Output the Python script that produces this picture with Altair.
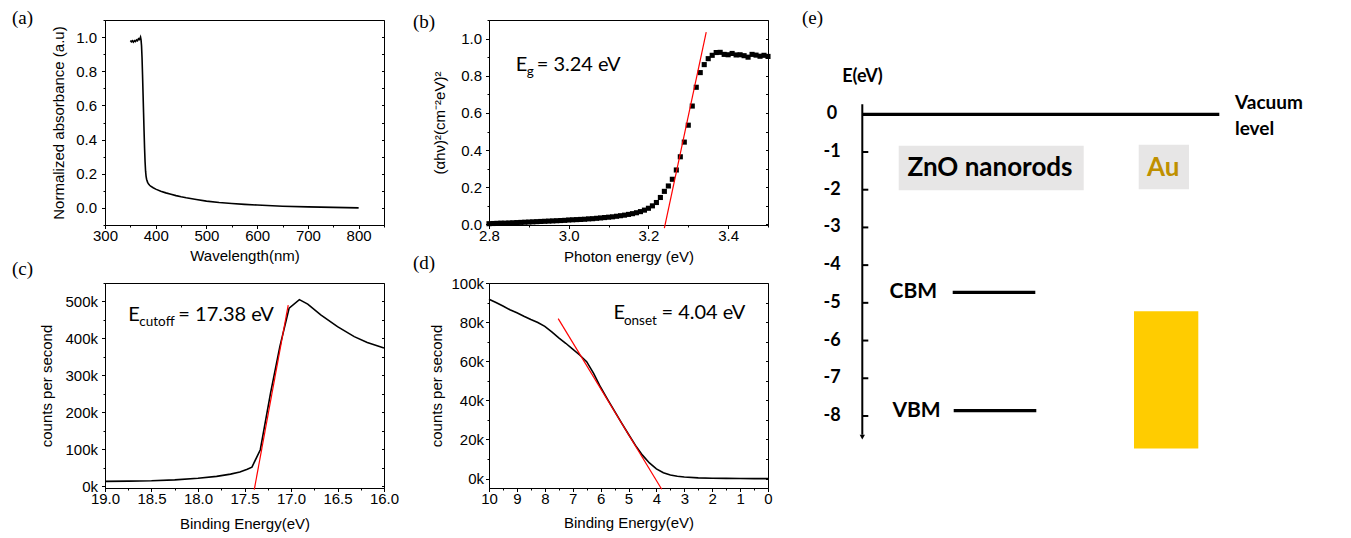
import altair as alt
import pandas as pd

# ---------------- (a) UV-vis absorbance ----------------
wavelength = [350, 352, 354, 356, 358, 360, 362, 364, 366, 368, 370, 371, 372, 373, 374,
              375, 376, 377, 378, 379, 380, 381, 382, 384, 386, 388, 390, 395, 400, 410,
              420, 430, 440, 450, 460, 480, 500, 525, 550, 575, 600, 650, 700, 750, 800]
absorbance = [0.980, 0.972, 0.978, 0.970, 0.979, 0.974, 0.983, 0.978, 0.990, 0.986, 1.000, 0.985, 0.950, 0.880, 0.780,
              0.670, 0.560, 0.450, 0.350, 0.270, 0.215, 0.185, 0.168, 0.150, 0.140, 0.133, 0.127, 0.118, 0.110, 0.098,
              0.088, 0.080, 0.072, 0.065, 0.059, 0.049, 0.040, 0.032, 0.026, 0.021, 0.017, 0.010, 0.006, 0.003, 0.000]

# ---------------- (b) Tauc plot ----------------
photon_energy = [2.80, 2.81, 2.82, 2.83, 2.84, 2.85, 2.86, 2.87, 2.88, 2.89,
                 2.90, 2.91, 2.92, 2.93, 2.94, 2.95, 2.96, 2.97, 2.98, 2.99,
                 3.00, 3.01, 3.02, 3.03, 3.04, 3.05, 3.06, 3.07, 3.08, 3.09,
                 3.10, 3.11, 3.12, 3.13, 3.14, 3.15, 3.16, 3.17, 3.18, 3.19,
                 3.20, 3.21, 3.22, 3.23, 3.24, 3.25, 3.26, 3.27, 3.28, 3.29,
                 3.30, 3.31, 3.32, 3.33, 3.34, 3.35, 3.36, 3.37, 3.38, 3.39,
                 3.40, 3.41, 3.42, 3.43, 3.44, 3.45, 3.46, 3.47, 3.48, 3.49, 3.50]
tauc = [0.004, 0.005, 0.006, 0.007, 0.007, 0.008, 0.009, 0.010, 0.011, 0.012,
        0.013, 0.014, 0.015, 0.016, 0.017, 0.018, 0.019, 0.020, 0.021, 0.022,
        0.024, 0.025, 0.026, 0.027, 0.028, 0.030, 0.031, 0.033, 0.035, 0.037,
        0.039, 0.041, 0.044, 0.047, 0.050, 0.054, 0.058, 0.063, 0.069, 0.077,
        0.087, 0.100, 0.118, 0.145, 0.178, 0.207, 0.243, 0.293, 0.364, 0.443,
        0.534, 0.637, 0.738, 0.817, 0.860, 0.892, 0.910, 0.925, 0.926, 0.915,
        0.913, 0.920, 0.912, 0.913, 0.908, 0.900, 0.915, 0.911, 0.905, 0.910, 0.904]
tauc_fit_x = [3.240, 3.345]
tauc_fit_y = [-0.02, 1.035]

# ---------------- (c) secondary electron cutoff ----------------
cutoff_be = [19.0, 18.75, 18.5, 18.25, 18.0, 17.8, 17.65, 17.55, 17.47, 17.42, 17.33,
             17.22, 17.12, 17.02, 16.91, 16.82, 16.68, 16.5, 16.32, 16.18, 16.0]
cutoff_cps = [13500, 14000, 15000, 17500, 22000, 27000, 33000, 39000, 46000, 52000, 99000,
              252000, 378000, 482000, 505000, 493000, 464000, 432000, 405000, 389000, 374000]
cutoff_fit_be = [17.395, 17.03]
cutoff_fit_cps = [-9000, 490000]

# ---------------- (d) valence band onset ----------------
onset_be = [10, 9.75, 9.5, 9.25, 9.0, 8.75, 8.5, 8.25, 8.0, 7.75, 7.5, 7.25, 7.0, 6.75,
            6.5, 6.25, 6.0, 5.75, 5.5, 5.25, 5.0, 4.75, 4.5, 4.25, 4.0, 3.75, 3.5, 3.25,
            3.0, 2.5, 2.0, 1.5, 1.0, 0.5, 0.0]
onset_cps = [91700, 90000, 88200, 86300, 84800, 83000, 81300, 79800, 77800, 75000, 72000, 69200, 66200, 63200,
             59800, 53800, 46700, 40500, 34500, 28500, 22700, 17000, 12000, 8000, 5000, 3000, 1800, 1200,
             800, 400, 200, 100, 50, 0, 0]
onset_fit_be = [7.52, 3.81]
onset_fit_cps = [81800, -5450]

# ---------------- (e) energy level diagram ----------------
energy_ticks = [0, -1, -2, -3, -4, -5, -6, -7, -8]
vacuum_level = 0.0
zno_cbm = -4.72
zno_vbm = -7.86
au_top = -5.22
au_bottom = -8.86

# ---------------- styles ----------------
AXF = "Liberation Sans"
ANN = "Lato"
SERIF = "Liberation Serif"

# tick values (major + minor)
a_xt = [300, 350, 400, 450, 500, 550, 600, 650, 700, 750, 800, 850]
a_yt = [-0.1, 0.0, 0.1, 0.2, 0.3, 0.4, 0.5, 0.6, 0.7, 0.8, 0.9, 1.0, 1.1]
b_xt = [2.8, 2.9, 3.0, 3.1, 3.2, 3.3, 3.4, 3.5]
b_yt = [0.0, 0.1, 0.2, 0.3, 0.4, 0.5, 0.6, 0.7, 0.8, 0.9, 1.0, 1.1]
c_xt = [16.0, 16.25, 16.5, 16.75, 17.0, 17.25, 17.5, 17.75, 18.0, 18.25, 18.5, 18.75, 19.0]
c_yt = [0, 50000, 100000, 150000, 200000, 250000, 300000, 350000, 400000, 450000, 500000, 550000]
d_xt = [0, 0.5, 1, 1.5, 2, 2.5, 3, 3.5, 4, 4.5, 5, 5.5, 6, 6.5, 7, 7.5, 8, 8.5, 9, 9.5, 10]
d_yt = [0, 10000, 20000, 30000, 40000, 50000, 60000, 70000, 80000, 90000, 100000]

FIFTH = "abs(datum.value*5 - round(datum.value*5)) < 0.001"
HALF = "abs(datum.value*2 - round(datum.value*2)) < 0.001"


def axis(title, values, major, label, pad, lpad):
    return alt.Axis(title=title, values=values, labelExpr=label, labelPadding=lpad,
                    tickSize={"condition": {"test": major, "value": 3.5}, "value": 2},
                    labelOverlap=False, labelFlush=False, grid=False, titlePadding=pad)


def right_ticks_axis(values):
    return alt.Axis(orient="right", offset=-2.5, tickSize=2.5, labels=False, domain=False,
                    title=None, values=values, grid=False)


def ptitle(text, dx, offset, dy):
    return alt.TitleParams(text, anchor="start", frame="group", dx=dx, dy=dy, offset=offset,
                           baseline="middle", font=SERIF, fontSize=19, fontWeight="normal",
                           color="black")


def subtext(df, x, y, parts):
    layers = []
    for txt, size, dx, dy in parts:
        layers.append(alt.Chart(df).mark_text(text=txt, align="left", baseline="alphabetic",
                                              font=ANN, fontSize=size, dx=dx, dy=dy,
                                              color="black").encode(x=x, y=y))
    return layers


def build(main_df, main_mark, x, yscale, yaxis, yvalues, extra):
    y_main = alt.Y("y:Q", scale=yscale, axis=yaxis)
    y_plain = alt.Y("y:Q", scale=yscale, axis=None)
    y_right = alt.Y("y:Q", scale=yscale, axis=right_ticks_axis(yvalues))
    layers = [alt.Chart(main_df).mark_line(strokeOpacity=0).encode(x=x, y=y_right),
              main_mark.encode(x=x, y=y_main)]
    for item in extra(x, y_plain):
        layers.append(item)
    return alt.layer(*layers).resolve_axis(y="independent")


# ---- panel a
ax = alt.X("x:Q", scale=alt.Scale(domain=[300, 850], nice=False, zero=False),
           axis=axis("Wavelength(nm)", a_xt, "datum.value % 100 === 0",
                     "datum.value % 100 === 0 ? format(datum.value, 'd') : ''", 5, 0))
a_ys = alt.Scale(domain=[-0.1, 1.1], nice=False, zero=False)
a_ya = axis("Normalized absorbance (a.u)", a_yt, FIFTH, FIFTH + " ? format(datum.value, '.1f') : ''", 9, 5)
a_df = pd.DataFrame({"x": wavelength, "y": absorbance})
panel_a = build(a_df, alt.Chart(a_df).mark_line(color="black", strokeWidth=1.6), ax, a_ys, a_ya, a_yt,
                lambda x, y: []).properties(width=279, height=205, title=ptitle("(a)", -93, 2, 26.2))

# ---- panel b
bx = alt.X("x:Q", scale=alt.Scale(domain=[2.8, 3.5], nice=False, zero=False),
           axis=axis("Photon energy (eV)", b_xt, FIFTH,
                     FIFTH + " ? format(datum.value, '.1f') : ''", 6, 0))
b_ys = alt.Scale(domain=[-0.003, 1.1], nice=False, zero=False)
b_ya = axis("(αhν)²(cm⁻²eV)²", b_yt, FIFTH, FIFTH + " ? format(datum.value, '.1f') : ''", 13, 4)
b_df = pd.DataFrame({"x": photon_energy, "y": tauc})
b_fit = pd.DataFrame({"x": tauc_fit_x, "y": tauc_fit_y})
b_ann = pd.DataFrame({"x": [2.867], "y": [0.825]})
panel_b = build(
    b_df, alt.Chart(b_df).mark_square(color="black", size=26, opacity=1), bx, b_ys, b_ya, b_yt,
    lambda x, y: [alt.Chart(b_fit).mark_line(color="red", strokeWidth=1.2).encode(x=x, y=y)]
    + subtext(b_ann, x, y, [("E", 20, 0, 0), ("g", 13.5, 11, 5), ("= 3.24 eV", 20, 21, 0)]),
).properties(width=279, height=205, title=ptitle("(b)", -76, 5, 33.2))

# ---- panel c
cx = alt.X("x:Q", scale=alt.Scale(domain=[16.0, 19.0], nice=False, zero=False, reverse=True),
           axis=axis("Binding Energy(eV)", c_xt, HALF,
                     HALF + " ? format(datum.value, '.1f') : ''", 10, 0))
c_ys = alt.Scale(domain=[-4500, 550000], nice=False, zero=False)
c_ya = axis("counts per second", c_yt, "datum.value % 100000 === 0",
            "datum.value % 100000 === 0 ? (datum.value/1000) + 'k' : ''", 10, 4)
c_df = pd.DataFrame({"x": cutoff_be, "y": cutoff_cps})
c_fit = pd.DataFrame({"x": cutoff_fit_be, "y": cutoff_fit_cps})
c_ann = pd.DataFrame({"x": [18.749], "y": [447800]})
panel_c = build(
    c_df, alt.Chart(c_df).mark_line(color="black", strokeWidth=1.6), cx, c_ys, c_ya, c_yt,
    lambda x, y: [alt.Chart(c_fit).mark_line(color="red", strokeWidth=1.2).encode(x=x, y=y)]
    + subtext(c_ann, x, y, [("E", 20, 0, 0), ("cutoff", 13.5, 11, 5), ("= 17.38 eV", 20, 50, 0)]),
).properties(width=279, height=205, title=ptitle("(c)", -93, 20, 31.5))

# ---- panel d
dx_ = alt.X("x:Q", scale=alt.Scale(domain=[0, 10], nice=False, zero=False, reverse=True),
            axis=axis("Binding Energy(eV)", d_xt, "datum.value % 1 === 0",
                      "datum.value % 1 === 0 ? format(datum.value, 'd') : ''", 9, 0))
d_ys = alt.Scale(domain=[-4800, 100000], nice=False, zero=False)
d_ya = axis("counts per second", d_yt, "datum.value % 20000 === 0",
            "datum.value % 20000 === 0 ? (datum.value/1000) + 'k' : ''", 6, 2)
d_df = pd.DataFrame({"x": onset_be, "y": onset_cps})
d_fit = pd.DataFrame({"x": onset_fit_be, "y": onset_fit_cps})
d_ann = pd.DataFrame({"x": [5.54], "y": [81800]})
panel_d = build(
    d_df, alt.Chart(d_df).mark_line(color="black", strokeWidth=1.6), dx_, d_ys, d_ya, d_yt,
    lambda x, y: [alt.Chart(d_fit).mark_line(color="red", strokeWidth=1.2).encode(x=x, y=y)]
    + subtext(d_ann, x, y, [("E", 20, 0, 0), ("onset", 13.5, 10.5, 6), ("= 4.04 eV", 20, 48, 0)]),
).properties(width=279, height=205, title=ptitle("(d)", -76, 19, 25))

# ---- panel e (schematic; x in layout units, 1 unit = 1 px; marks may extend past the frame)
L = {"axis": 42.3, "tick_len": 6, "tick_lab": 12, "vac_end": 399.3,
     "cb": (132.7, 215.3), "vb": (133.7, 216.3), "au": (314, 378.3),
     "zno_box": (78.7, 263.7, -0.833, -2.015), "au_box": (318.7, 369, -0.806, -1.989)}
ex = alt.Scale(domain=[53, 520], nice=False, zero=False)
ey = alt.Scale(domain=[-2.936, 2.5], nice=False, zero=False)
EX = alt.X("x:Q", scale=ex, axis=None)
EY = alt.Y("y:Q", scale=ey, axis=None)

axis_df = pd.DataFrame({"x": [L["axis"]], "y": [0.265], "y2": [-8.5]})
arrow_df = pd.DataFrame({"x": [L["axis"]], "y": [-8.56]})
tick_df = pd.DataFrame({"y": energy_ticks[1:]})
tick_df["x"] = L["axis"]
tick_df["x2"] = L["axis"] + L["tick_len"]
lab_df = pd.DataFrame({"y": energy_ticks, "t": [str(v) for v in energy_ticks]})
lab_df["x"] = L["tick_lab"]
lev_df = pd.DataFrame({"y": [vacuum_level, zno_cbm, zno_vbm],
                       "x": [L["axis"], L["cb"][0], L["vb"][0]],
                       "x2": [L["vac_end"], L["cb"][1], L["vb"][1]]})
au_df = pd.DataFrame({"x": [L["au"][0]], "x2": [L["au"][1]], "y": [au_top], "y2": [au_bottom]})
box_df = pd.DataFrame({"x": [L["zno_box"][0], L["au_box"][0]], "x2": [L["zno_box"][1], L["au_box"][1]],
                       "y": [L["zno_box"][2], L["au_box"][2]], "y2": [L["zno_box"][3], L["au_box"][3]]})
band_lab = pd.DataFrame({"t": ["CBM", "VBM"], "y": [zno_cbm, zno_vbm], "x": [93.3, 96.5]})
mat_lab = pd.DataFrame({"t": ["ZnO nanorods", "Au"], "x": [170, 343.3], "y": [-1.42, -1.42],
                        "c": ["black", "#bf9000"]})
eev_df = pd.DataFrame({"t": ["E(eV)"], "x": [42.5], "y": [0.99]})
vac_df = pd.DataFrame({"t": ["Vacuum", "level"], "x": [415, 415], "y": [0.30, -0.39]})

panel_e = alt.layer(
    alt.Chart(box_df).mark_rect(color="#e7e6e6").encode(x=EX, x2="x2:Q", y=EY, y2="y2:Q"),
    alt.Chart(au_df).mark_rect(color="#ffcc00").encode(x=EX, x2="x2:Q", y=EY, y2="y2:Q"),
    alt.Chart(axis_df).mark_rule(color="black", strokeWidth=2).encode(x=EX, y=EY, y2="y2:Q"),
    alt.Chart(arrow_df).mark_point(shape="triangle-down", filled=True, color="black", size=28,
                                   opacity=1).encode(x=EX, y=EY),
    alt.Chart(tick_df).mark_rule(color="black", strokeWidth=2).encode(x=EX, x2="x2:Q", y=EY),
    alt.Chart(lev_df).mark_rule(color="black", strokeWidth=3.2).encode(x=EX, x2="x2:Q", y=EY),
    alt.Chart(lab_df).mark_text(font=ANN, fontWeight="bold", fontSize=18, color="black").encode(
        x=EX, y=EY, text="t:N"),
    alt.Chart(band_lab).mark_text(font=ANN, fontWeight="bold", fontSize=21, color="black").encode(
        x=EX, y=EY, text="t:N"),
    alt.Chart(mat_lab).mark_text(font=ANN, fontWeight="bold", fontSize=26).encode(
        x=EX, y=EY, text="t:N", color=alt.Color("c:N", scale=None)),
    alt.Chart(eev_df).mark_text(font=ANN, fontWeight="bold", fontSize=18, color="black").encode(
        x=EX, y=EY, text="t:N"),
    alt.Chart(vac_df).mark_text(font=ANN, fontWeight="bold", fontSize=19, color="black",
                                align="left").encode(x=EX, y=EY, text="t:N"),
).properties(width=467, height=205, title=ptitle("(e)", -71, 5, 22.2),
             view=alt.ViewBackground(stroke="transparent"))

chart = alt.concat(panel_a, panel_b, panel_e, panel_c, panel_d, columns=3,
                   spacing={"row": 58, "column": 105}, bounds="flush").properties(
    padding={"left": 3, "top": 0, "right": 0, "bottom": 0}, background="white"
).configure_view(stroke="black", strokeWidth=1).configure_axis(
    labelFont=AXF, labelFontSize=15, titleFont=AXF, titleFontSize=15, titleFontWeight="normal",
    labelColor="black", titleColor="black", domainColor="black", tickColor="black",
    domainWidth=1, tickWidth=1
)

chart.save("out.html", embed_options={"renderer": "svg", "actions": False})
